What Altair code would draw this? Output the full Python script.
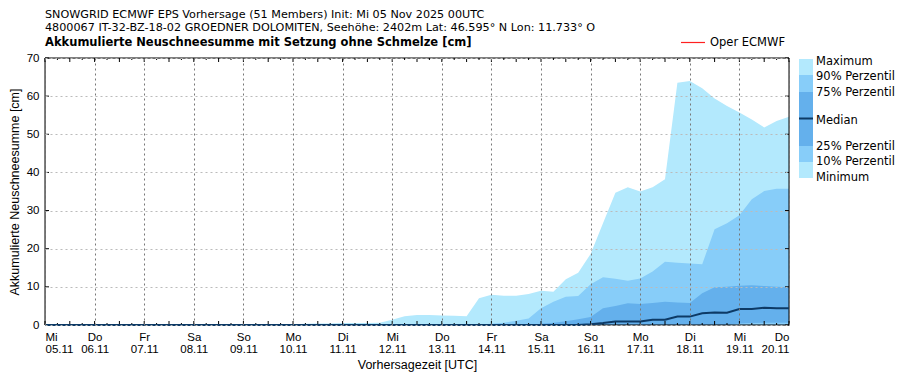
import altair as alt
import pandas as pd

# ---------------- data ----------------
hours = [6 * i for i in range(61)]  # forecast step (h after init), every 6 h

maximum = [0, 0, 0, 0, 0, 0, 0, 0, 0, 0, 0, 0, 0, 0, 0, 0, 0, 0, 0, 0,
           0.2, 0.3, 0.4, 0.4, 0.5, 0.5, 0.5, 0.6, 1.4, 2.3, 2.6, 2.6, 2.5, 2.4, 2.3,
           7.0, 7.9, 7.7, 7.7, 8.1, 9.0, 8.7, 12.0, 13.7, 18.6, 26.7, 34.7, 36.1, 35.0,
           36.1, 38.2, 63.5, 64.0, 62.1, 59.4, 57.4, 55.7, 53.9, 51.8, 53.5, 54.6]
p90 = [0, 0, 0, 0, 0, 0, 0, 0, 0, 0, 0, 0, 0, 0, 0, 0, 0, 0, 0, 0,
       0, 0, 0, 0, 0, 0, 0, 0, 0, 0, 0, 0, 0, 0, 0,
       0.1, 0.3, 0.6, 1.1, 1.7, 4.4, 6.1, 7.4, 7.6, 10.7, 12.5, 12.1, 11.6, 12.2,
       14.0, 16.6, 16.3, 16.1, 15.9, 25.1, 26.7, 28.8, 33.0, 35.1, 35.7, 35.7]
p75 = [0, 0, 0, 0, 0, 0, 0, 0, 0, 0, 0, 0, 0, 0, 0, 0, 0, 0, 0, 0,
       0, 0, 0, 0, 0, 0, 0, 0, 0, 0, 0, 0, 0, 0, 0,
       0, 0, 0, 0, 0, 0.3, 0.6, 1.0, 1.5, 2.1, 4.4, 5.0, 5.7, 5.5,
       5.8, 6.1, 5.9, 5.8, 8.3, 9.9, 10.0, 10.3, 10.4, 10.2, 10.0, 9.9]
median = [0, 0, 0, 0, 0, 0, 0, 0, 0, 0, 0, 0, 0, 0, 0, 0, 0, 0, 0, 0,
          0, 0, 0, 0, 0, 0, 0, 0, 0, 0, 0, 0, 0, 0, 0,
          0, 0, 0, 0, 0, 0, 0, 0, 0, 0.2, 0.5, 0.9, 0.9, 0.9,
          1.4, 1.4, 2.2, 2.2, 3.1, 3.3, 3.2, 4.2, 4.2, 4.5, 4.4, 4.4]
p25 = [0, 0, 0, 0, 0, 0, 0, 0, 0, 0, 0, 0, 0, 0, 0, 0, 0, 0, 0, 0,
       0, 0, 0, 0, 0, 0, 0, 0, 0, 0, 0, 0, 0, 0, 0,
       0, 0, 0, 0, 0, 0, 0, 0, 0, 0, 0, 0, 0, 0,
       0, 0, 0, 0, 0, 0, 0, 0.4, 0.5, 0.6, 0.6, 0.6]
p10 = [0] * 61
minimum = [0] * 61

day_names = ["Mi", "Do", "Fr", "Sa", "So", "Mo", "Di", "Mi", "Do", "Fr", "Sa", "So", "Mo", "Di", "Mi", "Do"]
day_dates = ["05.11", "06.11", "07.11", "08.11", "09.11", "10.11", "11.11", "12.11",
             "13.11", "14.11", "15.11", "16.11", "17.11", "18.11", "19.11", "20.11"]
day_hours = [24 * i for i in range(len(day_dates))]
tick_hours = hours
y_ticks = [0, 10, 20, 30, 40, 50, 60, 70]

title1 = "SNOWGRID ECMWF EPS Vorhersage (51 Members) Init: Mi 05 Nov 2025 00UTC"
title2 = "4800067 IT-32-BZ-18-02 GROEDNER DOLOMITEN, Seehöhe: 2402m Lat: 46.595° N Lon: 11.733° O"
title3 = "Akkumulierte Neuschneesumme mit Setzung ohne Schmelze [cm]"

legend_labels = ["Maximum", "90% Perzentil", "75% Perzentil", "Median", "25% Perzentil", "10% Perzentil", "Minimum"]

# ---------------- style ----------------
FONT = "DejaVu Sans"
FS = 11.5
FT = 12.5
FH = 11.2
C_LIGHT = "#b3e9fd"
C_MID = "#87cdf9"
C_DARK = "#64b0ec"
C_MED = "#0d3a66"
W, H = 744, 267

df = pd.DataFrame({"h": hours, "max": maximum, "p90": p90, "p75": p75, "median": median,
                   "p25": p25, "p10": p10, "min": minimum})

label_expr = "[" + ",".join(f"['{n}','{d}']" for n, d in zip(day_names, day_dates)) + "][round(datum.value/24)]"

x_scale = alt.Scale(domain=[0, 360], nice=False, zero=False)
x_axis = alt.Axis(values=day_hours, labelExpr=label_expr, tickSize=0, domain=False,
                  grid=True, gridDash=[2, 3], gridColor="#777777", gridWidth=1,
                  labelPadding=6, labelBaseline="top", labelLineHeight=12,
                  labelFontSize=FS, titleFontSize=FT, titleFontWeight="normal",
                  title="Vorhersagezeit [UTC]", titlePadding=4, zindex=1)
y_scale = alt.Scale(domain=[0, 70], nice=False, zero=True)
y_axis = alt.Axis(values=y_ticks, tickSize=0, domain=False, grid=True, gridDash=[2, 3],
                  gridColor="#bbbbbb", gridWidth=1, labelPadding=6,
                  labelFontSize=FS, titleFontSize=FT, titleFontWeight="normal",
                  title="Akkumulierte Neuschneesumme [cm]", titlePadding=5, zindex=1)


def X(field):
    return alt.X(f"{field}:Q", scale=x_scale, axis=x_axis)


def Y(field):
    return alt.Y(f"{field}:Q", scale=y_scale, axis=y_axis)


base = alt.Chart(df)
layers = []
for col, colr in [("max", C_LIGHT), ("p90", C_MID), ("p75", C_DARK), ("p25", C_MID), ("p10", C_LIGHT)]:
    layers.append(base.mark_area(color=colr, opacity=1, interpolate="linear").encode(x=X("h"), y=Y(col)))

# inward ticks (bottom / top) at 6 h steps
tick_df = pd.DataFrame({"h": tick_hours, "major": [h % 12 == 0 for h in tick_hours]})
tdf_major = tick_df[tick_df.major]
tdf_minor = tick_df[~tick_df.major]
for tdf, ln in [(tdf_major, 4), (tdf_minor, 2)]:
    tc = alt.Chart(tdf).mark_rule(color="black", strokeWidth=1)
    layers.append(tc.encode(x=X("h"), y=alt.value(H), y2=alt.value(H - ln)))
    layers.append(tc.encode(x=X("h"), y=alt.value(0), y2=alt.value(ln)))

ytick_df = pd.DataFrame({"v": y_ticks})
yc = alt.Chart(ytick_df).mark_rule(color="black", strokeWidth=1)
layers.append(yc.encode(y=Y("v"), x=alt.value(0), x2=alt.value(4)))
layers.append(yc.encode(y=Y("v"), x=alt.value(W), x2=alt.value(W - 4)))

one = pd.DataFrame({"t": [""]})
# frame
layers.append(alt.Chart(one).mark_rect(fillOpacity=0, stroke="black", strokeWidth=1).encode(
    x=alt.value(0), x2=alt.value(W), y=alt.value(0), y2=alt.value(H)))

# median line
layers.append(base.mark_line(color=C_MED, strokeWidth=2).encode(x=X("h"), y=Y("median")))

# titles
for txt, yy, wt, fs in [(title1, -43, "normal", FH), (title2, -30.5, "normal", FH), (title3, -15, "bold", FS)]:
    layers.append(alt.Chart(pd.DataFrame({"t": [txt]})).mark_text(
        align="left", baseline="middle", font=FONT, fontSize=fs, fontWeight=wt, color="black").encode(
        x=alt.value(0), y=alt.value(yy), text="t:N"))

# Oper ECMWF legend entry
layers.append(alt.Chart(one).mark_rule(color="#ff2020", strokeWidth=1.2).encode(
    x=alt.value(636), x2=alt.value(660), y=alt.value(-15.5)))
layers.append(alt.Chart(pd.DataFrame({"t": ["Oper ECMWF"]})).mark_text(
    align="left", baseline="middle", font=FONT, fontSize=FS, color="black").encode(
    x=alt.value(665), y=alt.value(-15), text="t:N"))

# band legend on the right
lx0, lx1 = 754, 768
for (y0, y1, colr) in [(1, 17, C_LIGHT), (17, 34, C_MID), (34, 88, C_DARK), (88, 104, C_MID), (104, 120, C_LIGHT)]:
    layers.append(alt.Chart(one).mark_rect(color=colr).encode(
        x=alt.value(lx0), x2=alt.value(lx1), y=alt.value(y0), y2=alt.value(y1)))
layers.append(alt.Chart(one).mark_rule(color=C_MED, strokeWidth=2).encode(
    x=alt.value(lx0), x2=alt.value(lx1), y=alt.value(60.5)))
for lab, yy in zip(legend_labels, [3.5, 19, 35, 63, 88.5, 104, 120]):
    layers.append(alt.Chart(pd.DataFrame({"t": [lab]})).mark_text(
        align="left", baseline="middle", font=FONT, fontSize=FS, color="black").encode(
        x=alt.value(771), y=alt.value(yy), text="t:N"))

chart = alt.layer(*layers).properties(
    width=W, height=H,
    autosize=alt.AutoSizeParams(type="none"),
    padding={"left": 37, "top": 50, "right": 106, "bottom": 47},
).configure_view(stroke=None).configure_axis(
    labelFont=FONT, titleFont=FONT, labelFontSize=FS, titleFontSize=FT,
    titleFontWeight="normal", labelColor="black", titleColor="black",
).configure(background="white")

chart.save("out.html", embed_options={"renderer": "svg", "actions": False})
